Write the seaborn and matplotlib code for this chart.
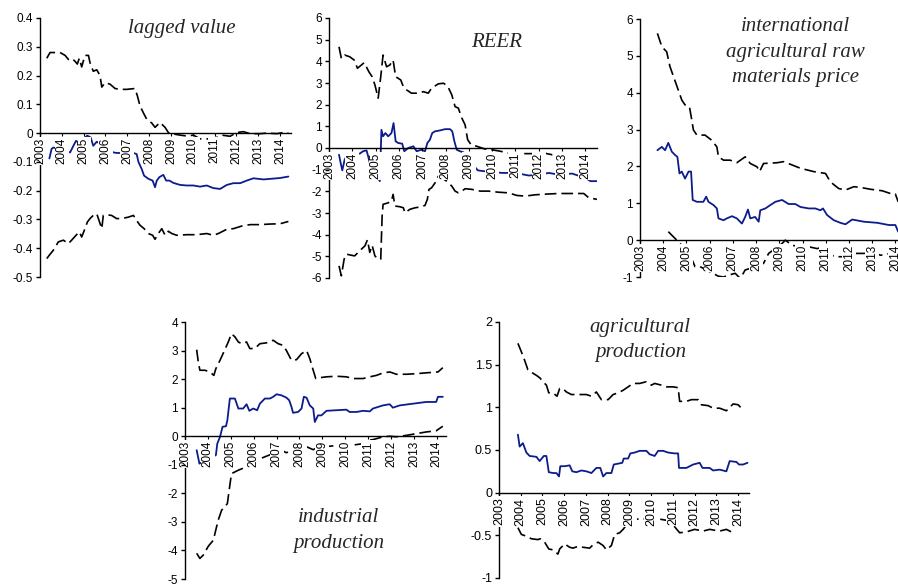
import numpy as np
import pandas as pd
import matplotlib
matplotlib.use("Agg")
import matplotlib.pyplot as plt
import seaborn as sns
from matplotlib.ticker import FixedLocator, FuncFormatter

# ---- lagged value ----
p1_up_x = [2003.31, 2003.46, 2003.69, 2003.92, 2004.15, 2004.30, 2004.45, 2004.60, 2004.71, 2004.80, 2004.91, 2005.06,
           2005.22, 2005.29, 2005.44, 2005.60, 2005.75, 2005.83, 2005.98, 2006.21, 2006.44, 2006.67, 2006.97, 2007.35,
           2007.46, 2007.58, 2007.74, 2007.89, 2008.12, 2008.27, 2008.50, 2008.73, 2008.88, 2009.11, 2009.42, 2009.72,
           2010.03, 2010.33, 2010.72, 2011.10, 2011.33, 2011.71, 2012.01, 2012.32, 2012.63, 2013.08, 2013.39, 2013.85,
           2014.15, 2014.38]
p1_up_y = [0.26, 0.28, 0.28, 0.28, 0.27, 0.256, 0.26, 0.25, 0.24, 0.26, 0.23, 0.27,
           0.27, 0.245, 0.215, 0.22, 0.20, 0.16, 0.175, 0.17, 0.155, 0.152, 0.152, 0.155,
           0.13, 0.095, 0.07, 0.048, 0.035, 0.02, 0.037, 0.02, 0.002, -0.003, -0.007, -0.01,
           -0.007, -0.02, -0.02, -0.015, -0.007, -0.011, 0.002, 0.005, -0.002, -0.002, 0.0, -0.002,
           0.002, 0.0]
p1_est_x = [2003.43, 2003.53, 2003.61, 2004.38, 2004.53, 2004.65, 2004.83, 2005.06, 2005.17, 2005.32, 2005.44, 2005.60,
            2006.36, 2006.51, 2007.28, 2007.43, 2007.51, 2007.66, 2007.77, 2007.97, 2008.16, 2008.27, 2008.35, 2008.47,
            2008.65, 2008.78, 2008.93, 2009.11, 2009.42, 2009.72, 2010.03, 2010.33, 2010.64, 2010.94, 2011.25, 2011.56,
            2011.86, 2012.17, 2012.47, 2012.78, 2013.24, 2013.54, 2014.00, 2014.38]
p1_est_y = [-0.088, -0.055, -0.05, -0.067, -0.044, -0.027, -0.035, -0.015, -0.009, -0.015, -0.044, -0.03,
            -0.067, -0.069, -0.069, -0.073, -0.10, -0.125, -0.148, -0.159, -0.165, -0.188, -0.165, -0.153,
            -0.145, -0.165, -0.165, -0.173, -0.18, -0.182, -0.182, -0.186, -0.182, -0.191, -0.194, -0.18,
            -0.174, -0.174, -0.165, -0.157, -0.161, -0.159, -0.156, -0.151]
p1_lo_x = [2003.31, 2003.43, 2003.61, 2003.84, 2004.07, 2004.30, 2004.45, 2004.65, 2004.80, 2004.91, 2005.06, 2005.17,
           2005.29, 2005.44, 2005.60, 2005.83, 2005.90, 2006.06, 2006.28, 2006.51, 2006.74, 2007.05, 2007.28, 2007.46,
           2007.58, 2007.77, 2007.97, 2008.16, 2008.27, 2008.42, 2008.58, 2008.73, 2008.88, 2009.04, 2009.26, 2009.72,
           2010.18, 2010.64, 2010.94, 2011.17, 2011.56, 2011.86, 2012.24, 2012.63, 2013.08, 2013.54, 2014.00, 2014.38]
p1_lo_y = [-0.436, -0.424, -0.407, -0.378, -0.372, -0.384, -0.372, -0.355, -0.343, -0.361, -0.332, -0.309,
           -0.297, -0.286, -0.28, -0.332, -0.286, -0.284, -0.286, -0.297, -0.297, -0.292, -0.286, -0.307,
           -0.32, -0.332, -0.349, -0.355, -0.369, -0.349, -0.332, -0.355, -0.341, -0.349, -0.355, -0.353,
           -0.353, -0.349, -0.355, -0.349, -0.334, -0.332, -0.323, -0.318, -0.318, -0.316, -0.315, -0.307]

# ---- REER ----
p2_up_x = [2003.43, 2003.53, 2003.67, 2003.89, 2004.08, 2004.22, 2004.39, 2004.51, 2004.71, 2004.85, 2004.97, 2005.11,
           2005.22, 2005.32, 2005.47, 2005.61, 2005.75, 2005.86, 2006.08, 2006.19, 2006.33, 2006.54, 2006.83, 2007.05,
           2007.26, 2007.40, 2007.69, 2007.91, 2008.09, 2008.27, 2008.41, 2008.55, 2008.70, 2008.84, 2008.95, 2009.10,
           2009.34, 2009.70, 2009.99, 2010.35, 2010.70, 2011.06, 2011.42, 2011.85, 2012.21, 2012.57, 2013.00, 2013.43]
p2_up_y = [4.67, 4.13, 4.29, 4.21, 4.06, 3.68, 3.83, 3.94, 3.52, 3.29, 2.91, 2.30,
           3.29, 4.29, 3.75, 3.83, 4.06, 3.29, 3.14, 2.83, 2.68, 2.53, 2.53, 2.60,
           2.53, 2.76, 2.96, 2.99, 2.86, 2.45, 1.91, 1.84, 1.38, 1.07, 0.38, 0.15,
           0.08, -0.05, -0.08, -0.15, -0.23, -0.26, -0.26, -0.26, -0.23, -0.31, -0.26, -0.31]
p2_est_x = [2003.43, 2003.50, 2003.57, 2003.67, 2003.79, 2003.96, 2004.32, 2004.46, 2004.61, 2004.68, 2004.75, 2005.18,
            2005.25, 2005.32, 2005.42, 2005.54, 2005.68, 2005.77, 2005.86, 2005.97, 2006.14, 2006.23, 2006.40, 2006.62,
            2006.76, 2006.97, 2007.12, 2007.22, 2007.33, 2007.43, 2007.55, 2007.76, 2007.98, 2008.19, 2008.29, 2008.38,
            2008.48, 2008.62, 2008.77, 2008.87, 2009.38, 2009.56, 2010.42, 2010.99, 2011.57, 2012.07, 2012.43, 2012.86,
            2013.43, 2014.00, 2014.22, 2014.50]
p2_est_y = [-0.31, -0.69, -1.03, -0.54, -0.31, -0.23, -0.26, -0.15, -0.11, -0.38, -0.69, -1.53,
            0.84, 0.54, 0.69, 0.54, 0.69, 1.15, 0.31, 0.23, 0.20, -0.15, 0.0, 0.08,
            -0.15, -0.08, -0.15, 0.23, 0.38, 0.69, 0.77, 0.81, 0.87, 0.87, 0.77, 0.31,
            -0.08, -0.15, -0.20, -0.35, -1.03, -1.06, -1.15, -1.15, -1.27, -1.23, -1.15, -1.23,
            -1.18, -1.38, -1.53, -1.53]
p2_lo_x = [2003.43, 2003.53, 2003.65, 2003.75, 2003.96, 2004.10, 2004.25, 2004.39, 2004.54, 2004.65, 2004.75, 2004.85,
           2004.97, 2005.11, 2005.22, 2005.28, 2005.32, 2005.54, 2005.68, 2005.75, 2005.83, 2006.04, 2006.19, 2006.26,
           2006.47, 2006.69, 2006.97, 2007.12, 2007.22, 2007.29, 2007.40, 2007.55, 2007.69, 2007.84, 2008.05, 2008.27,
           2008.41, 2008.55, 2008.70, 2008.84, 2009.13, 2009.48, 2009.84, 2010.27, 2010.70, 2011.06, 2011.42, 2011.85,
           2012.28, 2012.86, 2013.43, 2013.93, 2014.15, 2014.50]
p2_lo_y = [-5.44, -5.90, -5.13, -4.90, -4.95, -4.98, -4.82, -4.67, -4.52, -4.24, -4.82, -4.49,
           -4.98, -5.13, -5.13, -3.14, -2.60, -2.53, -2.45, -2.14, -2.68, -2.71, -2.76, -2.99,
           -2.83, -2.76, -2.71, -2.65, -2.37, -1.91, -1.84, -1.61, -1.30, -1.38, -1.53, -1.76,
           -1.99, -2.07, -1.99, -1.88, -1.91, -1.99, -1.99, -2.04, -2.07, -2.19, -2.22, -2.16,
           -2.13, -2.10, -2.10, -2.10, -2.30, -2.37]

# ---- international agricultural raw materials price ----
p3_up_x = [2003.75, 2003.94, 2004.15, 2004.29, 2004.47, 2004.65, 2004.80, 2004.94, 2005.13, 2005.23, 2005.30, 2005.45,
           2005.80, 2006.09, 2006.31, 2006.38, 2006.60, 2006.88, 2007.17, 2007.53, 2007.75, 2008.04, 2008.15, 2008.32,
           2008.90, 2009.19, 2009.55, 2009.91, 2010.48, 2010.99, 2011.20, 2011.56, 2011.85, 2012.21, 2012.50, 2012.93,
           2013.43, 2013.86, 2014.00, 2014.12]
p3_up_y = [5.61, 5.25, 5.11, 4.71, 4.39, 4.07, 3.80, 3.67, 3.62, 3.26, 2.99, 2.85,
           2.85, 2.71, 2.53, 2.26, 2.17, 2.17, 2.10, 2.26, 2.08, 1.99, 1.86, 2.08,
           2.10, 2.13, 2.04, 1.95, 1.86, 1.81, 1.58, 1.40, 1.36, 1.45, 1.43, 1.38,
           1.34, 1.25, 1.25, 1.04]
p3_est_x = [2003.75, 2003.94, 2004.08, 2004.22, 2004.37, 2004.51, 2004.61, 2004.70, 2004.80, 2004.94, 2005.09, 2005.20,
            2005.27, 2005.45, 2005.73, 2005.85, 2005.95, 2006.17, 2006.31, 2006.38, 2006.60, 2006.74, 2006.96, 2007.17,
            2007.39, 2007.53, 2007.65, 2007.75, 2007.96, 2008.11, 2008.18, 2008.40, 2008.61, 2008.83, 2009.12, 2009.40,
            2009.69, 2009.91, 2010.27, 2010.55, 2010.77, 2010.88, 2011.06, 2011.35, 2011.63, 2011.85, 2012.14, 2012.64,
            2013.22, 2013.72, 2014.00, 2014.12]
p3_est_y = [2.44, 2.53, 2.44, 2.64, 2.40, 2.31, 2.26, 1.81, 1.86, 1.67, 1.86, 1.86,
            1.09, 1.04, 1.04, 1.18, 1.04, 0.95, 0.86, 0.59, 0.54, 0.59, 0.65, 0.59,
            0.45, 0.63, 0.83, 0.59, 0.63, 0.50, 0.81, 0.86, 0.95, 1.04, 1.09, 0.98,
            0.98, 0.90, 0.86, 0.86, 0.81, 0.86, 0.68, 0.54, 0.47, 0.43, 0.56, 0.50,
            0.47, 0.41, 0.41, 0.23]
p3_lo_x = [2004.22, 2004.44, 2004.73, 2004.94, 2005.13, 2005.37, 2005.59, 2006.38, 2006.60, 2006.81, 2007.10, 2007.32,
           2007.53, 2007.96, 2008.32, 2008.54, 2008.83, 2009.12, 2009.26, 2009.55, 2009.91, 2010.27, 2010.63, 2010.91,
           2011.35, 2011.78, 2012.21, 2012.64, 2013.07, 2013.36, 2013.79, 2014.12]
p3_lo_y = [0.23, 0.09, -0.09, -0.27, -0.36, -0.72, -0.72, -0.98, -1.00, -0.95, -0.90, -1.04,
           -0.81, -0.72, -0.63, -0.36, -0.23, -0.09, 0.0, -0.14, -0.18, -0.18, -0.23, -0.18,
           -0.45, -0.45, -0.36, -0.36, -0.34, -0.41, -0.36, -0.36]

# ---- industrial production ----
p4_up_x = [2003.51, 2003.58, 2003.65, 2003.87, 2004.09, 2004.26, 2004.35, 2004.53, 2004.74, 2004.89, 2005.03, 2005.18,
           2005.33, 2005.47, 2005.69, 2005.83, 2006.05, 2006.27, 2006.56, 2006.85, 2007.07, 2007.29, 2007.43, 2007.65,
           2007.87, 2008.09, 2008.31, 2008.45, 2008.60, 2008.71, 2008.89, 2009.18, 2009.61, 2010.05, 2010.34, 2010.78,
           2011.07, 2011.36, 2011.66, 2011.95, 2012.23, 2012.67, 2013.10, 2013.54, 2014.05, 2014.26]
p4_up_y = [3.03, 2.60, 2.31, 2.31, 2.25, 2.13, 2.37, 2.66, 3.03, 3.30, 3.59, 3.48,
           3.30, 3.24, 3.30, 3.07, 3.07, 3.24, 3.27, 3.36, 3.24, 3.18, 3.00, 2.66,
           2.68, 2.89, 3.00, 2.72, 2.31, 2.02, 2.05, 2.08, 2.10, 2.08, 2.02, 2.02,
           2.08, 2.13, 2.22, 2.25, 2.17, 2.17, 2.19, 2.22, 2.25, 2.40]
p4_est_x = [2003.51, 2003.63, 2004.35, 2004.41, 2004.53, 2004.64, 2004.79, 2004.85, 2004.96, 2005.18, 2005.33, 2005.54,
            2005.69, 2005.81, 2005.98, 2006.15, 2006.27, 2006.49, 2006.71, 2006.85, 2007.00, 2007.22, 2007.43, 2007.55,
            2007.65, 2007.72, 2007.94, 2008.09, 2008.19, 2008.31, 2008.45, 2008.60, 2008.67, 2008.81, 2008.96, 2009.18,
            2009.61, 2010.05, 2010.19, 2010.49, 2010.78, 2011.07, 2011.21, 2011.65, 2011.94, 2012.08, 2012.38, 2012.96,
            2013.54, 2013.97, 2014.05, 2014.26]
p4_est_y = [-0.49, -0.96, -0.66, -0.26, -0.02, 0.33, 0.35, 0.56, 1.32, 1.32, 0.97, 0.97,
            1.12, 0.89, 0.97, 0.91, 1.14, 1.32, 1.32, 1.38, 1.47, 1.43, 1.35, 1.26,
            1.03, 0.82, 0.85, 0.97, 1.38, 1.35, 1.08, 0.97, 0.50, 0.73, 0.73, 0.89,
            0.91, 0.93, 0.85, 0.85, 0.89, 0.87, 0.97, 1.08, 1.12, 1.00, 1.08, 1.14,
            1.20, 1.20, 1.38, 1.38]
p4_lo_x = [2003.51, 2003.65, 2003.80, 2004.02, 2004.24, 2004.31, 2004.45, 2004.60, 2004.74, 2004.85, 2004.96, 2005.03,
           2005.18, 2005.33, 2005.51, 2005.80, 2006.10, 2006.49, 2007.22, 2007.43, 2008.16, 2008.31, 2008.60, 2008.89,
           2009.32, 2009.76, 2010.05, 2010.34, 2010.78, 2010.99, 2011.21, 2011.65, 2011.94, 2012.23, 2012.67, 2013.10,
           2013.54, 2013.97, 2014.26]
p4_lo_y = [-4.10, -4.28, -4.16, -3.85, -3.64, -3.40, -2.94, -2.59, -2.47, -2.36, -1.71, -1.31,
           -1.25, -1.19, -1.13, -1.00, -0.85, -0.72, -0.49, -0.58, -0.26, -0.37, -0.47, -0.37,
           -0.35, -0.31, -0.26, -0.31, -0.26, -0.14, -0.12, -0.02, 0.00, -0.02, 0.03, 0.09,
           0.15, 0.19, 0.35]

# ---- agricultural production ----
p5_up_x = [2003.87, 2004.03, 2004.18, 2004.33, 2004.56, 2004.75, 2004.90, 2005.02, 2005.18, 2005.29, 2005.48, 2005.67,
           2005.79, 2005.94, 2006.10, 2006.33, 2006.56, 2006.79, 2007.02, 2007.25, 2007.48, 2007.71, 2008.02, 2008.25,
           2008.48, 2008.71, 2008.94, 2009.17, 2009.47, 2009.78, 2010.01, 2010.16, 2010.47, 2010.70, 2011.01, 2011.24,
           2011.31, 2011.62, 2011.85, 2012.16, 2012.31, 2012.62, 2012.85, 2013.15, 2013.46, 2013.77, 2014.00, 2014.23]
p5_up_y = [1.75, 1.65, 1.55, 1.44, 1.40, 1.37, 1.34, 1.30, 1.26, 1.17, 1.17, 1.13,
           1.22, 1.22, 1.18, 1.15, 1.15, 1.15, 1.15, 1.13, 1.18, 1.09, 1.09, 1.15,
           1.17, 1.20, 1.24, 1.28, 1.28, 1.30, 1.26, 1.28, 1.26, 1.24, 1.24, 1.23,
           1.07, 1.07, 1.09, 1.09, 1.03, 1.02, 0.99, 0.99, 0.96, 1.04, 1.03, 0.97]
p5_est_x = [2003.87, 2003.95, 2004.10, 2004.26, 2004.41, 2004.72, 2004.87, 2005.06, 2005.18, 2005.29, 2005.48, 2005.64,
            2005.76, 2005.82, 2006.02, 2006.25, 2006.37, 2006.56, 2006.79, 2007.02, 2007.25, 2007.48, 2007.66, 2007.79,
            2007.94, 2008.17, 2008.28, 2008.48, 2008.67, 2008.74, 2008.94, 2009.04, 2009.24, 2009.47, 2009.78, 2009.93,
            2010.16, 2010.32, 2010.55, 2010.78, 2011.08, 2011.24, 2011.28, 2011.62, 2011.93, 2012.23, 2012.36, 2012.69,
            2012.85, 2013.15, 2013.46, 2013.61, 2013.92, 2014.04, 2014.23, 2014.43]
p5_est_y = [0.68, 0.54, 0.58, 0.47, 0.43, 0.42, 0.37, 0.43, 0.43, 0.24, 0.23, 0.23,
            0.19, 0.31, 0.31, 0.32, 0.25, 0.24, 0.26, 0.25, 0.23, 0.29, 0.29, 0.19,
            0.23, 0.23, 0.33, 0.34, 0.35, 0.40, 0.40, 0.46, 0.47, 0.49, 0.49, 0.45,
            0.43, 0.49, 0.49, 0.47, 0.46, 0.46, 0.29, 0.29, 0.33, 0.35, 0.29, 0.29,
            0.26, 0.27, 0.25, 0.37, 0.36, 0.33, 0.33, 0.35]
p5_lo_x = [2003.87, 2004.03, 2004.26, 2004.49, 2004.79, 2004.90, 2005.10, 2005.29, 2005.48, 2005.71, 2005.79, 2006.02,
           2006.25, 2006.40, 2006.63, 2006.87, 2007.17, 2007.33, 2007.56, 2007.79, 2007.94, 2008.17, 2008.32, 2008.55,
           2008.71, 2008.94, 2009.09, 2009.47, 2009.93, 2010.39, 2010.85, 2011.31, 2011.62, 2012.00, 2012.39, 2012.69,
           2013.15, 2013.46, 2013.69]
p5_lo_y = [-0.41, -0.49, -0.51, -0.54, -0.55, -0.54, -0.58, -0.66, -0.67, -0.72, -0.66, -0.60,
           -0.64, -0.65, -0.63, -0.64, -0.65, -0.61, -0.58, -0.62, -0.67, -0.62, -0.49, -0.47,
           -0.43, -0.35, -0.31, -0.31, -0.31, -0.31, -0.33, -0.47, -0.46, -0.43, -0.45, -0.43,
           -0.45, -0.43, -0.46]

years = list(range(2003, 2015))

sns.set_style("ticks")
plt.rcParams["font.family"] = ["Liberation Sans", "DejaVu Sans"]
plt.rcParams["axes.unicode_minus"] = False

BLUE = "#0c1c8c"
DASH = (0, (7, 3))


def panel(fig, rect, up, est, lo, ylim, ystep, xmax, title, tx, ty, fs=8.5):
    ax = fig.add_axes(rect)
    ax.patch.set_alpha(0)
    df_up = pd.DataFrame({"date": up[0], "value": up[1]})
    df_est = pd.DataFrame({"date": est[0], "value": est[1]})
    df_lo = pd.DataFrame({"date": lo[0], "value": lo[1]})
    sns.lineplot(data=df_up, x="date", y="value", ax=ax, color="black", lw=1.2,
                 linestyle=DASH, errorbar=None, sort=False)
    sns.lineplot(data=df_lo, x="date", y="value", ax=ax, color="black", lw=1.2,
                 linestyle=DASH, errorbar=None, sort=False)
    sns.lineplot(data=df_est, x="date", y="value", ax=ax, color=BLUE, lw=1.3,
                 errorbar=None, sort=False)
    ax.set_xlim(2003, xmax)
    ax.set_ylim(*ylim)
    ax.set_xlabel("")
    ax.set_ylabel("")
    sns.despine(ax=ax)
    ax.spines["bottom"].set_position(("data", 0))
    for s in ("bottom", "left"):
        ax.spines[s].set_linewidth(1.0)
        ax.spines[s].set_color("black")
    # tick labels sit on top of the lines, with a white box
    ax.set_axisbelow(False)
    ax.xaxis.set_major_locator(FixedLocator(years))
    ax.set_xticklabels([str(y) for y in years], rotation=90, fontsize=fs)
    yt = np.round(np.arange(ylim[0], ylim[1] + ystep / 2, ystep), 3)
    ax.yaxis.set_major_locator(FixedLocator(yt))
    ax.yaxis.set_major_formatter(FuncFormatter(lambda v, p: f"{round(v, 3) + 0:g}"))
    ax.tick_params(axis="y", direction="out", length=3, width=1, labelsize=fs, pad=2, colors="black")
    ax.tick_params(axis="x", direction="out", length=2, width=0.8, pad=1.5, colors="black")
    for lab in ax.get_xticklabels():
        lab.set_bbox(dict(facecolor="white", edgecolor="none", pad=0.8))
    ax.text(tx, ty, title, ha="center", va="center", fontsize=15, style="italic",
            family=["Liberation Serif", "DejaVu Serif"], linespacing=1.45)
    return ax


fig = plt.figure(figsize=(8.98, 5.86), dpi=100)
W, H = 898.0, 586.0


def rect(x0, x1, ytop, ybot):
    return [x0 / W, 1 - ybot / H, (x1 - x0) / W, (ybot - ytop) / H]


panel(fig, rect(40, 291, 18, 277), (p1_up_x, p1_up_y), (p1_est_x, p1_est_y), (p1_lo_x, p1_lo_y),
      (-0.5, 0.4), 0.1, 2014.5, "lagged value", 2009.5, 0.365)
panel(fig, rect(329, 597, 18, 278), (p2_up_x, p2_up_y), (p2_est_x, p2_est_y), (p2_lo_x, p2_lo_y),
      (-6, 6), 1, 2014.5, "REER", 2010.2, 4.85)
panel(fig, rect(640, 907, 19, 277), (p3_up_x, p3_up_y), (p3_est_x, p3_est_y), (p3_lo_x, p3_lo_y),
      (-1, 6), 1, 2014.5, "international\nagricultural raw\nmaterials price", 2009.7, 5.1)
panel(fig, rect(185, 446, 322, 579), (p4_up_x, p4_up_y), (p4_est_x, p4_est_y), (p4_lo_x, p4_lo_y),
      (-5, 4), 1, 2014.4, "industrial\nproduction", 2009.7, -3.3)
panel(fig, rect(499, 749, 322, 578), (p5_up_x, p5_up_y), (p5_est_x, p5_est_y), (p5_lo_x, p5_lo_y),
      (-1, 2), 0.5, 2014.5, "agricultural\nproduction", 2009.5, 1.79, fs=9)

fig.savefig("out.png", dpi=100, facecolor="white")
